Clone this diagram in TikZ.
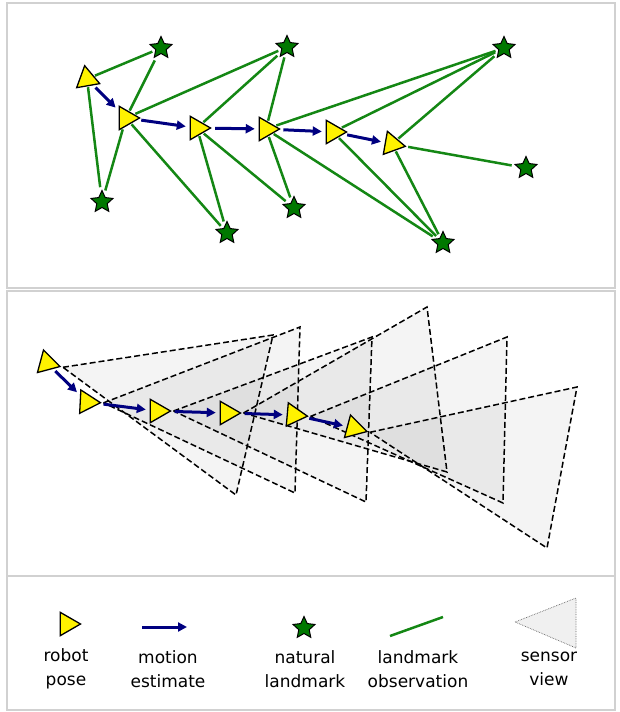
\documentclass[tikz,border=0pt]{standalone}
\usepackage{fontspec}
\setmainfont{DejaVu Sans}
\usepackage{xcolor}
\usepackage{tikz}
\usetikzlibrary{arrows.meta, shapes.geometric, backgrounds}

\definecolor{obsgreen}{RGB}{20,135,20}
\definecolor{stargreen}{RGB}{0,120,0}
\definecolor{motionblue}{RGB}{0,0,128}

\begin{document}
\begin{tikzpicture}[
  x=1pt, y=-1pt,
  pose/.style={draw, regular polygon, regular polygon sides=3, shape border rotate=-90, fill=yellow, line width=1.3pt, inner sep=0pt, minimum size=27pt, outer sep=1.5pt},
  landmark/.style={draw, star, star points=5, star point ratio=2.1, fill=stargreen, line width=1pt, inner sep=0pt, minimum size=23pt, outer sep=3pt},
  obs/.style={obsgreen, line width=2.5pt},
  motion/.style={-{Triangle[length=9pt, width=9pt]}, motionblue, line width=3pt, shorten <=2pt, shorten >=3pt},
  view/.style={draw, dash pattern=on 6pt off 3pt, line width=1.5pt, fill=black, fill opacity=0.045},
  panel/.style={draw=black!18, line width=1.3pt},
  lbl/.style={align=center, font=\fontsize{17}{23.5}\selectfont, inner sep=0pt},
]
\useasboundingbox (0,0) rectangle (619,712);

% Panels
\draw[panel] (7,3) rectangle (615,288);
\draw[panel] (7,291) rectangle (615,576);
\draw[panel] (7,576) rectangle (615,710);

% Top: poses and landmarks
\node[pose, shape border rotate=-110] (p1) at (87,79) {};
\node[pose] (p2) at (126,118) {};
\node[pose] (p3) at (197,128) {};
\node[pose] (p4) at (266,129) {};
\node[pose] (p5) at (333,132) {};
\node[pose, shape border rotate=-100] (p6) at (392,144) {};

\node[landmark] (s1) at (161,48) {};
\node[landmark] (s2) at (287,47) {};
\node[landmark] (s3) at (504,48) {};
\node[landmark] (s4) at (102,202) {};
\node[landmark] (s5) at (227,233) {};
\node[landmark] (s6) at (294,208) {};
\node[landmark] (s7) at (526,168) {};
\node[landmark] (s8) at (443,243) {};

% Observations
\foreach \a/\b in {p1/s1, p1/s4, p2/s1, p2/s2, p2/s4, p2/s5, p3/s2, p3/s5, p3/s6,
                   p4/s2, p4/s3, p4/s6, p4/s8, p5/s3, p5/s8, p6/s3, p6/s7, p6/s8}
  \draw[obs] (\a) -- (\b);

% Motion
\foreach \a/\b in {p1/p2, p2/p3, p3/p4, p4/p5, p5/p6}
  \draw[motion] (\a) -- (\b);

% Middle: poses with sensor views
\node[pose, shape border rotate=-105] (q1) at (47,363) {};
\node[pose, shape border rotate=-93] (q2) at (87,402) {};
\node[pose] (q3) at (157,411) {};
\node[pose] (q4) at (227,413) {};
\node[pose, shape border rotate=-95] (q5) at (294,415) {};
\node[pose, shape border rotate=-105] (q6) at (354,428) {};

\coordinate (va1) at (273,335); \coordinate (vb1) at (236,495);
\coordinate (va2) at (300,327); \coordinate (vb2) at (295,493);
\coordinate (va3) at (372,337); \coordinate (vb3) at (366,502);
\coordinate (va4) at (427,307); \coordinate (vb4) at (447,472);
\coordinate (va5) at (507,337); \coordinate (vb5) at (503,503);
\coordinate (va6) at (577,387); \coordinate (vb6) at (547,548);

\begin{scope}[on background layer]
  \foreach \i in {1,...,6}
    \draw[view] (q\i.corner 1) -- (va\i) -- (vb\i) -- cycle;
\end{scope}

\foreach \a/\b in {q1/q2, q2/q3, q3/q4, q4/q5, q5/q6}
  \draw[motion] (\a) -- (\b);

% Legend
\node[pose] (lpose) at (67,624) {};
\node[lbl] (tpose) at (66,669) {robot\\pose};

\coordinate (lm1) at (142,627);
\coordinate (lm2) at (187,627);
\draw[motion, shorten <=0pt, shorten >=0pt] (lm1) -- (lm2);
\node[lbl] (tmotion) at (168,669) {motion\\estimate};

\node[landmark] (lstar) at (304,628) {};
\node[lbl] (tstar) at (305,669) {natural\\landmark};

\coordinate (lo1) at (390,636);
\coordinate (lo2) at (443,617);
\draw[obs] (lo1) -- (lo2);
\node[lbl] (tobs) at (418,669) {landmark\\observation};

\coordinate (lv1) at (515,622);
\coordinate (lv2) at (576,598);
\coordinate (lv3) at (576,648);
\draw[draw=black!60, densely dotted, line width=0.7pt, fill=black!6] (lv1) -- (lv2) -- (lv3) -- cycle;
\node[lbl] (tview) at (549,669) {sensor\\view};

\end{tikzpicture}
\end{document}
